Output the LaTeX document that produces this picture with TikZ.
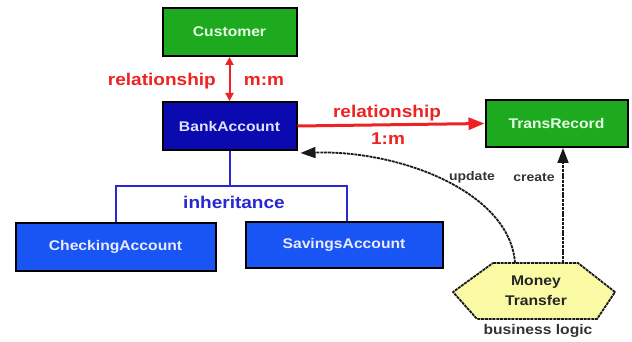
\documentclass[tikz,border=0pt]{standalone}
\usepackage{fontspec}
\setmainfont[FakeStretch=1.12]{Liberation Sans}
\usetikzlibrary{arrows.meta}
\definecolor{boxgreen}{RGB}{30,170,30}
\definecolor{darkblue}{RGB}{10,10,176}
\definecolor{midblue}{RGB}{25,85,245}
\definecolor{relred}{RGB}{238,34,34}
\definecolor{inhblue}{RGB}{40,40,210}
\definecolor{hexfill}{RGB}{250,250,165}
\begin{document}
\begin{tikzpicture}[x=1pt,y=-1pt,
  ent/.style={draw=black, line width=2pt, inner sep=0pt, font=\fontsize{14}{16}\bfseries\selectfont},
  rellab/.style={text=relred, font=\fontsize{17}{19}\bfseries\selectfont, inner sep=0pt},
  rel/.style={draw=relred, line width=3pt},
  inh/.style={draw=inhblue, line width=2pt},
  smalllab/.style={text=black!80, font=\fontsize{12.5}{14}\bfseries\selectfont, inner sep=0pt},
  dep/.style={draw=black!90, line width=1.8pt, dash pattern=on 3pt off 0.8pt},
]
\useasboundingbox (0,0) rectangle (632,342);

% entity boxes
\node[ent, fill=boxgreen, text=green!10, minimum width=134pt, minimum height=48pt] (cust) at (229.5,32) {Customer};
\node[ent, fill=darkblue, text=blue!12, minimum width=134pt, minimum height=48pt] (bank) at (229.5,126) {BankAccount};
\node[ent, fill=boxgreen, text=green!10, minimum width=142pt, minimum height=47pt] (trans) at (556.5,123.5) {TransRecord};
\node[ent, fill=midblue, text=blue!8, minimum width=200pt, minimum height=48pt] (check) at (115.5,246.5) {CheckingAccount};
\node[ent, fill=midblue, text=blue!8, minimum width=197pt, minimum height=46pt] (save) at (344,245) {SavingsAccount};

% relationship Customer - BankAccount
\draw[draw=relred, line width=2pt, {Triangle[length=8pt,width=8pt]}-{Triangle[length=8pt,width=8pt]}] (cust.south) -- (bank.north);
\node[rellab, anchor=east] (rl1) at (216,81) {relationship};
\node[rellab] (mm) at (264,81) {m:m};

% relationship BankAccount - TransRecord
\draw[rel, -{Triangle[length=16pt,width=12pt]}] (bank.east) -- (trans.west);
\node[rellab] (rl2) at (387,113) {relationship};
\node[rellab] (onem) at (388,139) {1:m};

% inheritance
\coordinate (junc) at (229.5,186);
\coordinate (jl) at (115.5,186);
\coordinate (jr) at (346.5,186);
\draw[inh] (bank.south) -- (junc);
\draw[inh] (check.north -| jl) |- (jr) -- (save.north -| jr);
\node[text=inhblue, font=\fontsize{17}{19}\bfseries\selectfont, inner sep=0pt] (inhlab) at (234,202) {inheritance};

% Money Transfer hexagon
\draw[dep, fill=hexfill, line join=round] (493,263) -- (578,263) -- (615,292) -- (597,319) -- (477,319) -- (453,292) -- cycle;
\node[align=center, text=black!85, font=\fontsize{14}{20}\bfseries\selectfont, inner sep=0pt] (mt) at (536,291) {Money\\Transfer};
\node[text=black!80, font=\fontsize{14}{16}\bfseries\selectfont, inner sep=0pt] (bl) at (538,331) {business logic};
\coordinate (updstart) at (515,263);
\coordinate (crtstart) at (563,263);

% update / create
\draw[dep, -{Triangle[length=15pt,width=11pt]}] (updstart) .. controls (510,192) and (400,150) .. ([xshift=3pt,yshift=-2pt]bank.south east);
\draw[dep, -{Triangle[length=15pt,width=11pt]}] (crtstart) -- (crtstart |- trans.south);
\node[smalllab] (upd) at (472,177) {update};
\node[smalllab] (crt) at (534,177) {create};
\end{tikzpicture}
\end{document}
